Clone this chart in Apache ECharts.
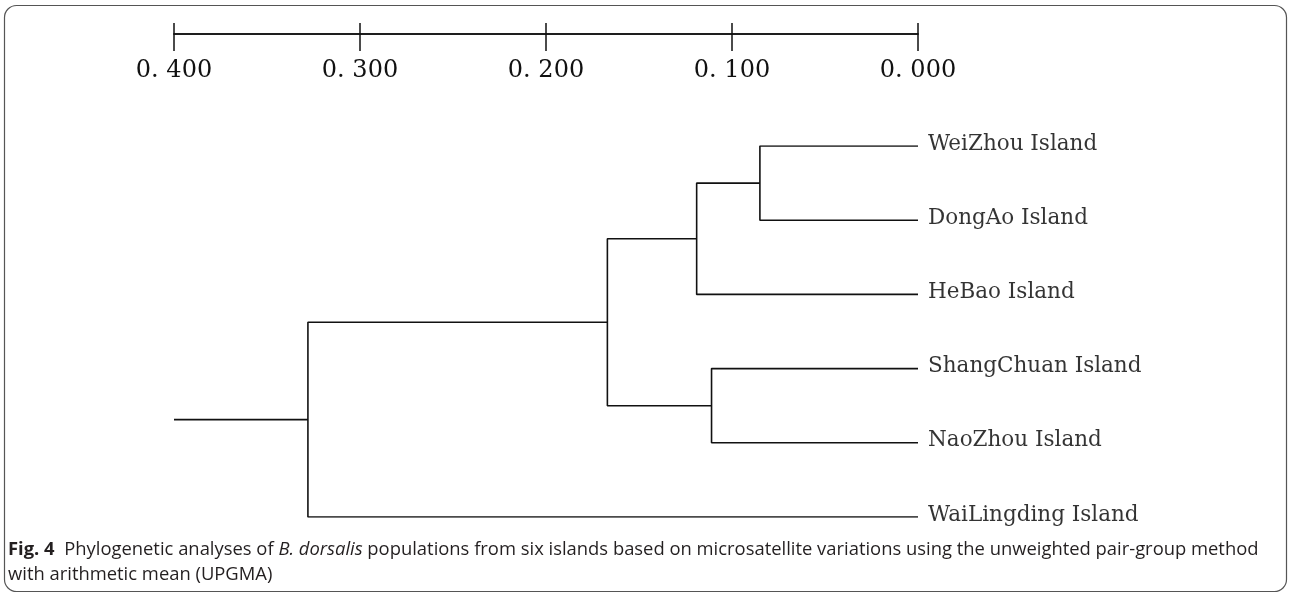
<!DOCTYPE html>
<html><head><meta charset="utf-8">
<script src="https://cdn.jsdelivr.net/npm/echarts@6/dist/echarts.min.js"></script>
<style>html,body{margin:0;padding:0;background:#fff}#c{width:1290px;height:594px}</style>
</head><body><div id="c"></div>
<script>
// Leaves (top to bottom)
const leaves = ['WeiZhou Island', 'DongAo Island', 'HeBao Island', 'ShangChuan Island', 'NaoZhou Island', 'WaiLingding Island'];
// UPGMA merges: node ids 0..5 are leaves, merge k creates node 6+k
const mergeLeft = [0, 6, 3, 7, 9];
const mergeRight = [1, 2, 4, 8, 5];
const mergeHeight = [0.085, 0.119, 0.111, 0.167, 0.328];
const rootTip = 0.400;
// Scale bar
const tickValues = [0.4, 0.3, 0.2, 0.1, 0.0];
const tickLabels = ['0. 400', '0. 300', '0. 200', '0. 100', '0. 000'];

const pos = leaves.map((n, i) => [0, i]);
const segs = [];
mergeHeight.forEach((h, k) => {
  const a = pos[mergeLeft[k]], b = pos[mergeRight[k]];
  pos.push([h, (a[1] + b[1]) / 2]);
  segs.push([[a[0], a[1]], [h, a[1]], [h, b[1]], [b[0], b[1]]]);
});
const root = pos[pos.length - 1];
segs.push([[root[0], root[1]], [rootTip, root[1]]]);

const lineStyle = { color: '#111', width: 1.6 };
const series = segs.map(s => ({
  type: 'line', data: s, symbol: 'none', silent: true, animation: false,
  lineStyle: lineStyle, xAxisIndex: 0, yAxisIndex: 0
}));
series.push({
  type: 'scatter', symbolSize: 0, animation: false, silent: true,
  xAxisIndex: 0, yAxisIndex: 0,
  data: leaves.map((n, i) => ({ value: [0, i], name: n })),
  label: {
    show: true, position: 'right', distance: 10, offset: [0, -2], formatter: p => p.name,
    fontFamily: 'DejaVu Serif', fontSize: 21.5, color: '#000'
  }
});

const labelFmt = v => {
  const i = tickValues.findIndex(t => Math.abs(t - v) < 1e-9);
  return i >= 0 ? tickLabels[i] : '';
};
const scaleBase = {
  type: 'value', min: 0, max: 0.4, interval: 0.1, inverse: true, gridIndex: 1,
  splitLine: { show: false },
  axisLine: { show: true, lineStyle: { color: '#111', width: 1.5 } }
};

const chart = echarts.init(document.getElementById('c'), null, { renderer: 'canvas' });
chart.setOption({
  backgroundColor: '#fff',
  animation: false,
  grid: [
    { left: 174, right: 372, top: 146, bottom: 77 },
    { left: 174, right: 372, top: 34, height: 0 }
  ],
  xAxis: [
    { type: 'value', min: 0, max: 0.4, inverse: true, gridIndex: 0, show: false },
    Object.assign({}, scaleBase, {
      position: 'top',
      axisTick: { show: true, inside: false, length: 11, lineStyle: { color: '#111', width: 1.5 } },
      axisLabel: { show: false }
    }),
    Object.assign({}, scaleBase, {
      position: 'bottom',
      axisTick: { show: true, inside: false, length: 17, lineStyle: { color: '#111', width: 1.5 } },
      axisLabel: {
        show: true, margin: 25, formatter: labelFmt,
        fontFamily: 'DejaVu Serif', fontSize: 24, color: '#111'
      }
    })
  ],
  yAxis: [
    { type: 'value', min: 0, max: 5, inverse: true, show: false, gridIndex: 0 },
    { type: 'value', min: 0, max: 1, show: false, gridIndex: 1 }
  ],
  series: series,
  graphic: [
    {
      type: 'rect', silent: true,
      shape: { x: 4.5, y: 5.5, width: 1282, height: 586, r: 12 },
      style: { fill: 'none', stroke: '#555', lineWidth: 1.2 }
    },
    {
      type: 'text', left: 8, top: 537, silent: true,
      style: {
        text: '{b|Fig. 4}  Phylogenetic analyses of {i|B. dorsalis} populations from six islands based on microsatellite variations using the unweighted pair-group method\nwith arithmetic mean (UPGMA)',
        font: '18.4px "Open Sans"', fill: '#231f20', lineHeight: 25,
        rich: {
          b: { fontWeight: 'bold', fontFamily: 'Open Sans', fontSize: 18.4, fill: '#231f20', lineHeight: 25 },
          i: { fontStyle: 'italic', fontFamily: 'Open Sans', fontSize: 18.4, fill: '#231f20', lineHeight: 25 }
        }
      }
    }
  ]
});
</script>
</body></html>
